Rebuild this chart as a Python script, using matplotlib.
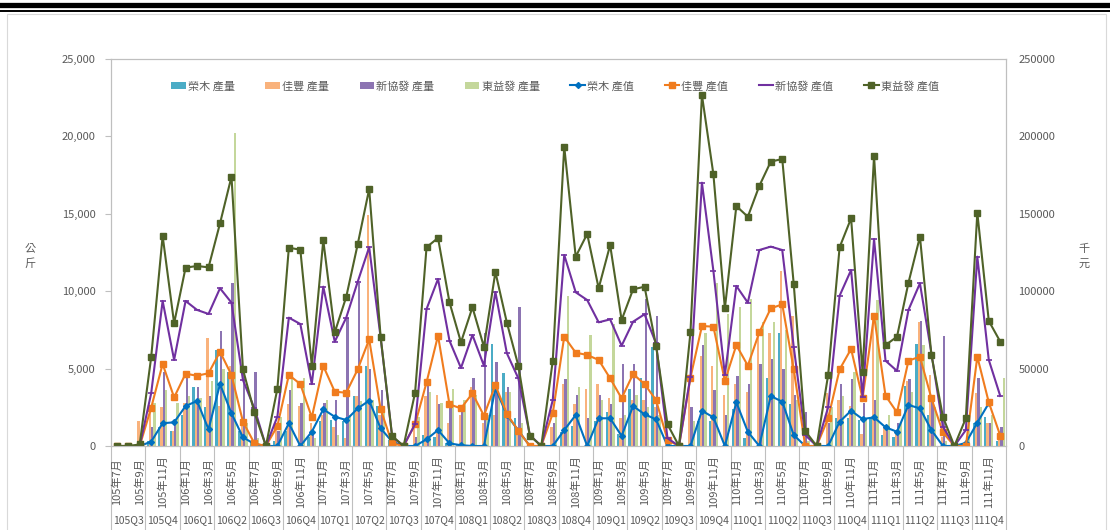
import numpy as np
import matplotlib
matplotlib.use("Agg")
import matplotlib.pyplot as plt
from matplotlib.lines import Line2D
from matplotlib.patches import Rectangle
from matplotlib.ticker import FuncFormatter

plt.rcParams['font.family'] = ['Noto Sans CJK TC', 'DejaVu Sans']

# monthly data, 105年7月 .. 111年12月 (78 months)
# 產量 (公斤)
qty_rm = [0, 0, 0, 300, 1200, 1000, 2000, 3800, 2500, 6200, 4800, 1000, 300, 0, 300, 1000, 0, 600, 1600,
          1700, 1600, 3200, 5200, 2600, 400, 0, 0, 700, 600, 200, 100, 0, 0, 6600, 4700, 1800, 0, 0,
          0, 900, 1300, 0, 1600, 2200, 800, 3700, 4400, 6400, 0, 0, 0, 1600, 1600, 0, 2400, 500, 0,
          4400, 7300, 2700, 0, 0, 0, 1800, 1800, 1700, 1800, 700, 600, 3900, 6600, 2000, 0, 0, 0, 1500, 1900, 300]
qty_jf = [0, 0, 1600, 2500, 2500, 1000, 2800, 3000, 7000, 2600, 5200, 1500, 200, 0, 1400, 2700, 2600, 1500, 2000,
          1200, 500, 3200, 14900, 2000, 300, 0, 1200, 3200, 3300, 1500, 2000, 3800, 1500, 2000, 3500, 1200, 0, 0,
          1200, 4000, 2700, 3700, 4000, 3100, 1800, 3000, 3000, 2500, 300, 0, 4500, 5800, 5200, 3300, 4000, 3500, 7300,
          7300, 11300, 8400, 300, 0, 3400, 3000, 2600, 800, 8400, 1200, 1000, 4200, 8000, 4600, 600, 0, 0, 3400, 1500, 800]
qty_xx = [0, 0, 0, 1200, 4800, 1400, 4400, 3800, 3200, 7400, 10500, 4800, 4800, 0, 1000, 3600, 2800, 800, 2800,
          3000, 8300, 10500, 5000, 3600, 500, 0, 600, 4000, 2700, 2500, 2600, 4400, 7300, 5400, 3800, 9000, 0, 0,
          1500, 4300, 3300, 1800, 3300, 2700, 5300, 5300, 9500, 8400, 400, 0, 2500, 6500, 3600, 2000, 4500, 4000, 5300,
          5600, 5000, 3300, 2200, 0, 1500, 4000, 4300, 2800, 3000, 1300, 1500, 4300, 8100, 3300, 7100, 0, 600, 4400, 1500, 1200]
qty_dy = [0, 0, 200, 2800, 3600, 2800, 3200, 3100, 4200, 5000, 20200, 1500, 500, 0, 1900, 4300, 4400, 500, 3000,
          700, 2000, 2900, 3000, 2500, 300, 0, 1900, 3500, 2800, 3700, 3000, 3300, 2000, 3300, 3500, 1500, 0, 0,
          2100, 9700, 3800, 7200, 3000, 7900, 2000, 3300, 2500, 2000, 400, 0, 1600, 7300, 10500, 8500, 9000, 9500, 8000,
          8000, 7500, 3000, 300, 0, 2500, 3200, 4800, 1800, 9400, 2000, 1500, 3500, 6500, 2500, 300, 0, 1500, 2500, 2000, 4400]

# 產值 (千元)
val_rm = [0, 0, 0, 2800, 14700, 15300, 25800, 29100, 10800, 40000, 21100, 5600, 1300, 0, 0, 14700, 0, 9200, 23700,
          18900, 16800, 24300, 29300, 11400, 2800, 0, 0, 4300, 10300, 1700, 500, 0, 0, 37300, 20000, 10000, 0, 0,
          0, 10300, 20000, 0, 17900, 17900, 6500, 25800, 20500, 17200, 0, 0, 0, 22800, 18500, 0, 28200, 9200, 0,
          32300, 28600, 7100, 0, 0, 0, 15700, 22800, 17400, 18500, 12100, 9200, 26500, 24300, 10300, 0, 0, 2000, 15100, 27600, np.nan]
val_jf = [0, 0, 0, 24700, 53000, 31400, 46700, 45400, 47000, 60900, 45900, 15700, 1700, 0, 12900, 45900, 40000, 18500, 51700,
          35100, 34400, 49500, 68900, 23700, 1700, 0, 14000, 41100, 71300, 26900, 24300, 34000, 19600, 39400, 20700, 9900, 0, 0,
          21100, 70600, 60300, 58800, 55600, 43700, 30800, 46500, 40000, 29700, 3900, 0, 44100, 77500, 77100, 42000, 65200, 51900, 73400,
          88900, 91500, 49500, 0, 0, 17900, 49500, 62700, 30800, 84200, 32500, 21700, 55100, 57700, 30800, 8800, 0, 0, 57700, 28200, 6700]
val_xx = [0, 0, 0, 34000, 93700, 55600, 93700, 87900, 85300, 101900, 92600, 42600, 24300, 0, 19000, 82900, 78800, 40000, 102900,
          67400, 82900, 106100, 128400, 70000, 6000, 0, 14200, 88500, 107900, 68000, 50400, 71700, 51900, 99500, 59900, 43700, 7100, 0,
          29700, 123400, 99300, 94300, 79900, 81800, 64800, 80300, 85100, 66300, 5000, 0, 44800, 170100, 113100, 45900, 103400, 92600, 126600,
          128800, 126600, 64100, 7100, 0, 25000, 97100, 113700, 31900, 133700, 55100, 48500, 87900, 105100, 59900, 12500, 0, 10300, 122300, 55600, 32300]
val_dy = [0, 0, 1000, 57300, 135700, 79300, 115200, 116300, 115400, 143800, 174000, 49500, 21700, 0, 37000, 128100, 126800, 51900, 132900,
          73400, 96300, 130300, 166000, 70400, 6500, 0, 34400, 128400, 134400, 92800, 67000, 89600, 64100, 112400, 79700, 51900, 6700, 0,
          55100, 193400, 122300, 137000, 101900, 129800, 81400, 101200, 102900, 64800, 14000, 0, 73400, 226700, 175500, 88900, 155000, 148100, 168000,
          183700, 185400, 104700, 9700, 0, 45900, 128400, 147100, 47600, 187300, 65200, 70600, 105500, 135200, 58800, 18900, 0, 17900, 150700, 80800, 67400]

quarters = ["105Q3", "105Q4", "106Q1", "106Q2", "106Q3", "106Q4", "107Q1", "107Q2", "107Q3",
            "107Q4", "108Q1", "108Q2", "108Q3", "108Q4", "109Q1", "109Q2", "109Q3", "109Q4",
            "110Q1", "110Q2", "110Q3", "110Q4", "111Q1", "111Q2", "111Q3", "111Q4"]

month_labels = []
for i in range(len(qty_rm)):
    yr = 105 + (6 + i) // 12
    mo = (6 + i) % 12 + 1
    month_labels.append(f"{yr}年{mo}月")

gray = "#595959"
frame = "#bfbfbf"

fig = plt.figure(figsize=(11.1, 5.3), dpi=100)

# page decoration
fig.add_artist(Line2D([0, 1], [1 - 5 / 530] * 2, color="black", lw=3.8))
fig.add_artist(Line2D([0, 1], [1 - 11 / 530] * 2, color="black", lw=1.4))
fig.add_artist(Rectangle((7 / 1110, -0.05), 1099 / 1110, 1.05 - 14 / 530,
                         fill=False, edgecolor="#d9d9d9", lw=0.8))

ax = fig.add_axes([111 / 1110, 1 - 446 / 530, 895 / 1110, 387 / 530])
ax2 = ax.twinx()

x = np.arange(len(qty_rm))
w = 0.2
b1 = ax.bar(x - 1.5 * w, qty_rm, w, color="#4bacc6", linewidth=0, label="榮木 產量")
b2 = ax.bar(x - 0.5 * w, qty_jf, w, color="#f9b27c", linewidth=0, label="佳豐 產量")
b3 = ax.bar(x + 0.5 * w, qty_xx, w, color="#8c74b2", linewidth=0, label="新協發 產量")
b4 = ax.bar(x + 1.5 * w, qty_dy, w, color="#c4d79b", linewidth=0, label="東益發 產量")

l1, = ax2.plot(x, val_rm, color="#0070c0", lw=1.5, marker="D", ms=3, label="榮木 產值")
l2, = ax2.plot(x, val_jf, color="#f07c1e", lw=1.5, marker="s", ms=5, label="佳豐 產值")
l3, = ax2.plot(x, val_xx, color="#7030a0", lw=1.5, marker="_", ms=5, mew=1.2, label="新協發 產值")
l4, = ax2.plot(x, val_dy, color="#4f6228", lw=1.5, marker="s", ms=5, label="東益發 產值")

ax.set_xlim(-0.5, len(x) - 0.5)
ax.set_ylim(0, 25000)
ax2.set_ylim(0, 250000)
ax.set_yticks(range(0, 25001, 5000))
ax2.set_yticks(range(0, 250001, 50000))
ax.yaxis.set_major_formatter(FuncFormatter(lambda v, p: f"{int(v):,}"))
ax2.yaxis.set_major_formatter(FuncFormatter(lambda v, p: f"{int(v)}"))
ax.set_xticks([])

for a in (ax, ax2):
    for s in a.spines.values():
        s.set_color(frame)
        s.set_linewidth(0.8)
ax.tick_params(axis="y", length=4, color=frame, labelsize=8, labelcolor=gray, pad=7)
ax2.tick_params(axis="y", length=0, labelsize=8, labelcolor=gray, pad=9)

ax.text(-0.0905, 0.49, "公\n斤", transform=ax.transAxes, ha="center", va="center",
        fontsize=8, color=gray, linespacing=1.6)
ax.text(1.087, 0.49, "千\n元", transform=ax.transAxes, ha="center", va="center",
        fontsize=8, color=gray, linespacing=1.6)

# multi-level category axis
tr = ax.get_xaxis_transform()
for q in range(len(quarters) + 1):
    xb = -0.5 + 3 * q
    ax.plot([xb, xb], [0, -0.25], transform=tr, color=frame, lw=0.8, clip_on=False)
for i in range(0, len(x), 2):
    ax.text(x[i], -0.092, month_labels[i], transform=tr, rotation=90, ha="center",
            va="center", fontsize=8, color=gray)
for q, lab in enumerate(quarters):
    ax.text(3 * q + 1, -0.192, lab, transform=tr, ha="center", va="center",
            fontsize=7.5, color=gray)

handles = [b1, b2, b3, b4, l1, l2, l3, l4]
fig.legend(handles, [h.get_label() for h in handles], ncol=8, loc="center",
           bbox_to_anchor=(0.5, 1 - 86 / 530), frameon=False, fontsize=8,
           handlelength=1.3, handletextpad=0.2, columnspacing=2.75,
           labelcolor=gray)

fig.savefig("out.png", dpi=100)
